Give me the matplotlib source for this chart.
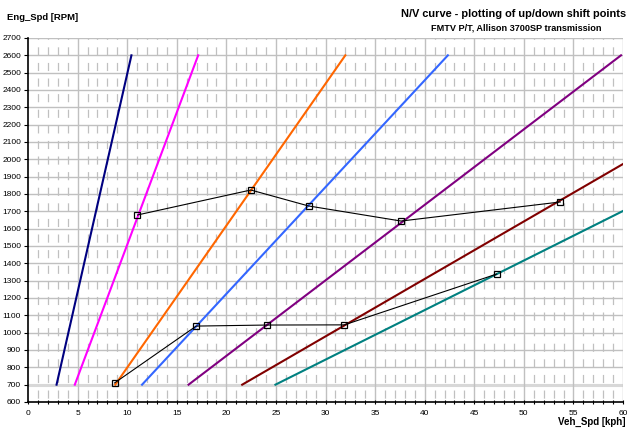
import matplotlib
matplotlib.use("Agg")
import matplotlib.pyplot as plt
import numpy as np

plt.rcParams['font.family'] = ['Liberation Sans', 'DejaVu Sans']

# gear lines: (speed at start, speed at end), (rpm at start, rpm at end)
gearColors = ["#000080", "#FF00FF", "#FF6600", "#3366FF", "#800080", "#800000", "#008080"]
gearSpeeds = [[2.88, 10.43], [4.72, 17.16], [8.8, 32.0], [11.5, 42.34],
              [16.19, 59.8], [21.6, 60.0], [24.95, 60.0]]
gearRpms = [[700, 2600], [700, 2600], [700, 2600], [700, 2600],
            [700, 2600], [700, 1973], [700, 1702]]

# shift points
upSpeed = [11.04, 22.47, 28.29, 37.62, 53.68]
upRpm = [1679, 1823, 1731, 1644, 1754]
downSpeed = [8.73, 16.96, 24.08, 31.9, 47.26]
downRpm = [710, 1038, 1044, 1045, 1338]

fig = plt.figure(figsize=(6.28, 4.30), dpi=100)
ax = fig.add_axes([28/628, 28/430, 595/628, 364/430])

ax.set_xlim(0, 60)
ax.set_ylim(600, 2700)

# grid
for y in range(700, 2701, 100):
    ax.axhline(y, color="#c0c0c0", lw=1.0, zorder=0)
ax.axhline(700, color="#d8d8d8", lw=2.2, zorder=0)
for x in range(5, 61, 5):
    ax.axvline(x, color="#c0c0c0", lw=1.0, zorder=0)
for x in range(1, 60):
    if x % 5:
        ax.axvline(x, color="#c0c0c0", lw=0.9, zorder=0,
                   linestyle=(9.4, (6.5, 5.98)))

for c, s, r in zip(gearColors, gearSpeeds, gearRpms):
    ax.plot(s, r, color=c, lw=1.5, zorder=2)

ax.plot(downSpeed, downRpm, color="black", lw=0.8, marker="s", markersize=4.5,
        markerfacecolor="none", markeredgecolor="black", markeredgewidth=0.9, zorder=3)
ax.plot(upSpeed, upRpm, color="black", lw=0.8, marker="s", markersize=4.5,
        markerfacecolor="none", markeredgecolor="black", markeredgewidth=0.9, zorder=3)

ax.set_xticks(range(0, 61, 5))
ax.set_xticks(range(0, 61, 1), minor=True)
ax.set_yticks(range(600, 2701, 100))
ax.tick_params(axis="both", labelsize=6, length=3, width=0.8, direction="out", pad=2)
ax.tick_params(axis="x", which="minor", length=2.5, width=0.8, direction="inout")
ax.tick_params(axis="x", which="major", length=3, direction="inout", pad=4)

for sp in ["top", "right"]:
    ax.spines[sp].set_visible(False)
for sp in ["left", "bottom"]:
    ax.spines[sp].set_linewidth(1.2)

fig.text(7/628, 1 - 18/430, "Eng_Spd [RPM]", fontsize=6.8, fontweight="bold", va="center", ha="left")
fig.text(626/628, 1 - 14/430, "N/V curve - plotting of up/down shift points", fontsize=7.9,
         fontweight="bold", va="center", ha="right")
fig.text(516/628, 1 - 28/430, "FMTV P/T, Allison 3700SP transmission", fontsize=6.6,
         fontweight="bold", va="center", ha="center")
fig.text(626/628, 1 - 422/430, "Veh_Spd [kph]", fontsize=7, fontweight="bold", va="center", ha="right")

fig.savefig("out.png", dpi=100)
